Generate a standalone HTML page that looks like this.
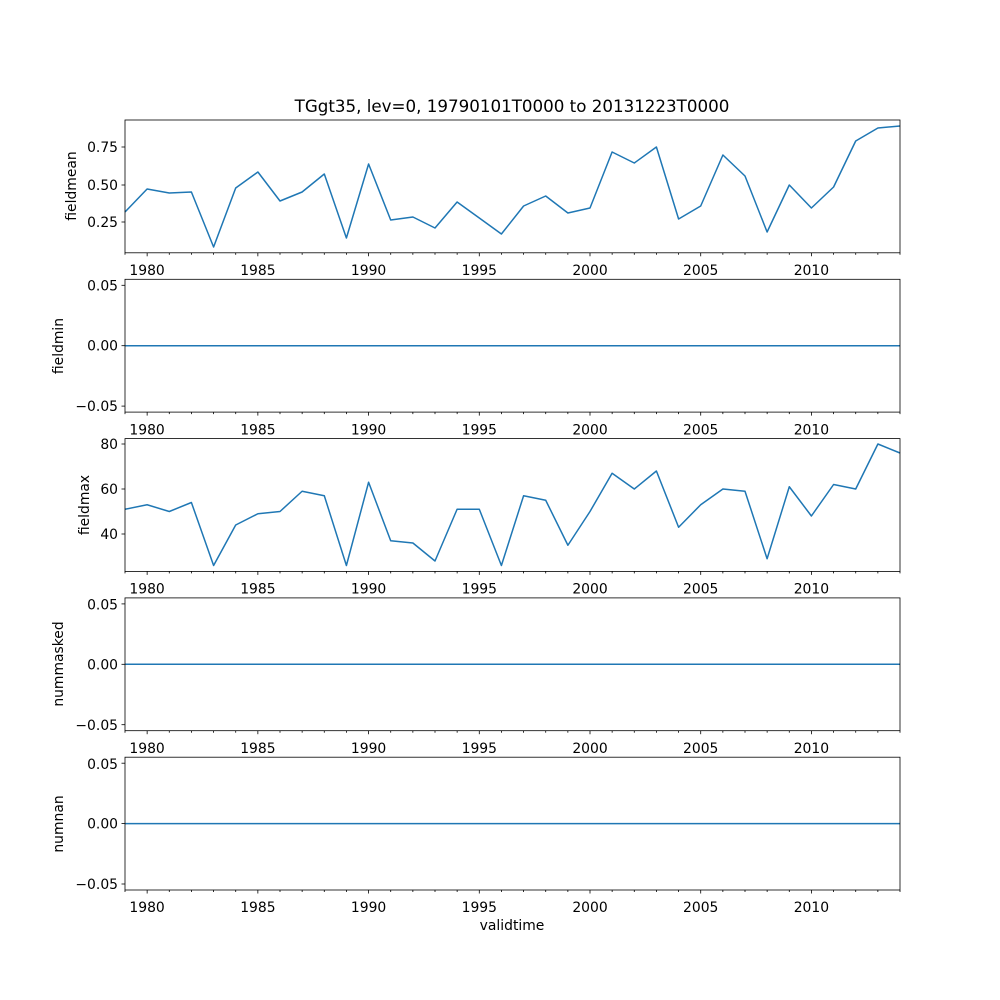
<!DOCTYPE html>
<html><head><meta charset="utf-8"><style>
html,body{margin:0;padding:0;background:#fff;}
svg{display:block;font-family:"DejaVu Sans","Liberation Sans",sans-serif;}
text{font-size:13.9px;fill:#000;}
</style></head><body>
<svg id="s" width="1000" height="1000" viewBox="0 0 1000 1000" xmlns="http://www.w3.org/2000/svg">
<rect width="1000" height="1000" fill="#fff"/>
<g id="ticks" stroke="#000" stroke-width="0.8"></g>
<g fill="none" stroke="#1f77b4" stroke-width="1.5" stroke-linejoin="round">
<polyline points="125,212 147.1,189 169.3,193 191.4,192 213.6,247 235.7,188 257.9,172 280,201 302.1,192 324.3,174 346.4,238 368.6,164 390.7,220 412.9,217 435,228 457.1,202 479.3,218 501.4,234 523.6,206 545.7,196 567.9,213 590,208 612.1,152 634.3,163 656.4,147 678.6,219 700.7,206 722.9,155 745,176 767.1,232 789.3,185 811.4,208 833.6,187 855.7,141 877.9,128 900,126"/>
<line x1="125" y1="345.7" x2="900" y2="345.7"/>
<polyline points="125,509.25 147.1,504.75 169.3,511.5 191.4,502.5 213.6,565.5 235.7,525 257.9,513.75 280,511.5 302.1,491.25 324.3,495.75 346.4,565.5 368.6,482.25 390.7,540.75 412.9,543 435,561 457.1,509.25 479.3,509.25 501.4,565.5 523.6,495.75 545.7,500.25 567.9,545.25 590,511.5 612.1,473.25 634.3,489 656.4,471 678.6,527.25 700.7,504.75 722.9,489 745,491.25 767.1,558.75 789.3,486.75 811.4,516 833.6,484.5 855.7,489 877.9,444 900,453"/>
<line x1="125" y1="664.3" x2="900" y2="664.3"/>
<line x1="125" y1="823.6" x2="900" y2="823.6"/>
</g>
<g fill="none" stroke="#000" stroke-width="0.8">
<rect x="125" y="120" width="775" height="132.8"/>
<rect x="125" y="279.3" width="775" height="132.8"/>
<rect x="125" y="438.6" width="775" height="132.8"/>
<rect x="125" y="597.9" width="775" height="132.8"/>
<rect x="125" y="757.2" width="775" height="132.8"/>
</g>
<text x="512" y="112" text-anchor="middle" style="font-size:16.7px">TGgt35, lev=0, 19790101T0000 to 20131223T0000</text>
<g text-anchor="end">
<text x="118" y="152">0.75</text><text x="118" y="190">0.50</text><text x="118" y="227">0.25</text>
<text x="118" y="290.5">0.05</text><text x="118" y="350.7">0.00</text><text x="118" y="411">−0.05</text>
<text x="118" y="449">80</text><text x="118" y="494">60</text><text x="118" y="539">40</text>
<text x="118" y="609.5">0.05</text><text x="118" y="669.3">0.00</text><text x="118" y="730">−0.05</text>
<text x="118" y="769">0.05</text><text x="118" y="828.6">0.00</text><text x="118" y="889">−0.05</text>
</g>
<g text-anchor="middle">
<text transform="translate(76,186) rotate(-90)">fieldmean</text>
<text transform="translate(63,346) rotate(-90)">fieldmin</text>
<text transform="translate(89,505) rotate(-90)">fieldmax</text>
<text transform="translate(63,664) rotate(-90)">nummasked</text>
<text transform="translate(63,824) rotate(-90)">numnan</text>
<text x="512" y="930">validtime</text>
</g>
<g id="xl" text-anchor="middle">
<g><text x="147.1" y="275">1980</text><text x="257.9" y="275">1985</text><text x="368.6" y="275">1990</text><text x="479.3" y="275">1995</text><text x="590" y="275">2000</text><text x="700.7" y="275">2005</text><text x="811.4" y="275">2010</text></g>
<g><text x="147.1" y="434.3">1980</text><text x="257.9" y="434.3">1985</text><text x="368.6" y="434.3">1990</text><text x="479.3" y="434.3">1995</text><text x="590" y="434.3">2000</text><text x="700.7" y="434.3">2005</text><text x="811.4" y="434.3">2010</text></g>
<g><text x="147.1" y="593.6">1980</text><text x="257.9" y="593.6">1985</text><text x="368.6" y="593.6">1990</text><text x="479.3" y="593.6">1995</text><text x="590" y="593.6">2000</text><text x="700.7" y="593.6">2005</text><text x="811.4" y="593.6">2010</text></g>
<g><text x="147.1" y="752.9">1980</text><text x="257.9" y="752.9">1985</text><text x="368.6" y="752.9">1990</text><text x="479.3" y="752.9">1995</text><text x="590" y="752.9">2000</text><text x="700.7" y="752.9">2005</text><text x="811.4" y="752.9">2010</text></g>
<g><text x="147.1" y="912">1980</text><text x="257.9" y="912">1985</text><text x="368.6" y="912">1990</text><text x="479.3" y="912">1995</text><text x="590" y="912">2000</text><text x="700.7" y="912">2005</text><text x="811.4" y="912">2010</text></g>
</g>
</svg>
<script>
(function(){
var g=document.getElementById('ticks'),ns='http://www.w3.org/2000/svg';
function L(x1,y1,x2,y2){var l=document.createElementNS(ns,'line');l.setAttribute('x1',x1);l.setAttribute('y1',y1);l.setAttribute('x2',x2);l.setAttribute('y2',y2);g.appendChild(l);}
var bottoms=[252.8,412.1,571.4,730.7,890];
bottoms.forEach(function(b){
 for(var y=1979;y<=2014;y++){var x=125+(y-1979)*775/35;var major=(y%5==0);L(x,b,x,b+(major?3.5:2));}
});
var yt=[147,185,222,285.3,345.7,406.1,444,489,534,603.9,664.3,724.7,763.2,823.6,884];
yt.forEach(function(y){L(121.5,y,125,y);});
})();
</script>
</body></html>
